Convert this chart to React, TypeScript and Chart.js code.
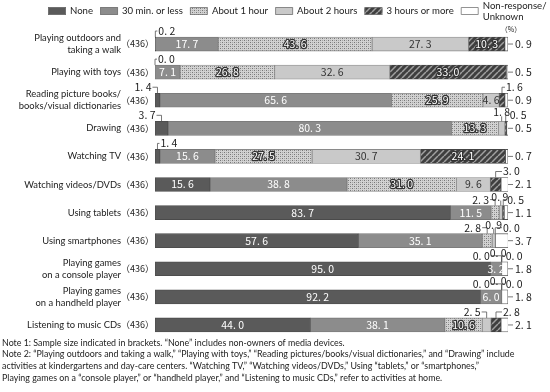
import React, { useEffect, useRef } from "react";
import { Chart, registerables } from "chart.js";
Chart.register(...registerables);

const categories: string[][] = [
  ["Playing outdoors and", "taking a walk"],
  ["Playing with toys"],
  ["Reading picture books/", "books/visual dictionaries"],
  ["Drawing"],
  ["Watching TV"],
  ["Watching videos/DVDs"],
  ["Using tablets"],
  ["Using smartphones"],
  ["Playing games", "on a console player"],
  ["Playing games", "on a handheld player"],
  ["Listening to music CDs"],
];
const sampleSizes = [436, 436, 436, 436, 436, 436, 436, 436, 436, 436, 436];
const seriesNames = ["None", "30 min. or less", "About 1 hour", "About 2 hours", "3 hours or more", "Non-response/Unknown"];
const noneVals = [0.2, 0.0, 1.4, 3.7, 1.4, 15.6, 83.7, 57.6, 95.0, 92.2, 44.0];
const min30Vals = [17.7, 7.1, 65.6, 80.3, 15.6, 38.8, 11.5, 35.1, 3.2, 6.0, 38.1];
const hour1Vals = [43.6, 26.8, 25.9, 13.3, 27.5, 31.0, 2.3, 2.8, 0.0, 0.0, 10.6];
const hour2Vals = [27.3, 32.6, 4.6, 1.8, 30.7, 9.6, 0.9, 0.9, 0.0, 0.0, 2.5];
const hour3Vals = [10.3, 33.0, 1.6, 0.5, 24.1, 3.0, 0.5, 0.0, 0.0, 0.0, 2.8];
const noRespVals = [0.9, 0.5, 0.9, 0.5, 0.7, 2.1, 1.1, 3.7, 1.8, 1.8, 2.1];
const notes = [
  "Note 1: Sample size indicated in brackets. \u201cNone\u201d includes non-owners of media devices.",
  "Note 2: \u201cPlaying outdoors and taking a walk,\u201d \u201cPlaying with toys,\u201d \u201cReading pictures/books/visual dictionaries,\u201d and \u201cDrawing\u201d include",
  "activities at kindergartens and day-care centers. \u201cWatching TV,\u201d \u201cWatching videos/DVDs,\u201d Using \u201ctablets,\u201d or \u201csmartphones,\u201d",
  "Playing games on a \u201cconsole player,\u201d or \u201chandheld player,\u201d and \u201cListening to music CDs,\u201d refer to activities at home.",
];

const seriesData = [noneVals, min30Vals, hour1Vals, hour2Vals, hour3Vals, noRespVals];

const LATIN = "Lato, 'Liberation Sans', sans-serif";
const NUMF = "'Noto Sans CJK JP', 'DejaVu Sans', sans-serif";

function dotPattern(ctx: CanvasRenderingContext2D) {
  const c = document.createElement("canvas");
  c.width = 4; c.height = 4;
  const g = c.getContext("2d")!;
  g.fillStyle = "#d2d2d2"; g.fillRect(0, 0, 4, 4);
  g.fillStyle = "#777777";
  g.fillRect(0, 0, 1, 1); g.fillRect(2, 2, 1, 1);
  g.fillStyle = "#a6a6a6";
  g.fillRect(2, 0, 1, 1); g.fillRect(0, 2, 1, 1);
  return ctx.createPattern(c, "repeat")!;
}
function hatchPattern(ctx: CanvasRenderingContext2D) {
  const s = 6;
  const c = document.createElement("canvas");
  c.width = s; c.height = s;
  const g = c.getContext("2d")!;
  g.fillStyle = "#3f3f3f"; g.fillRect(0, 0, s, s);
  g.strokeStyle = "#a0a0a0"; g.lineWidth = 1.5;
  for (const o of [-s, 0, s]) {
    g.beginPath(); g.moveTo(o, s); g.lineTo(o + s, 0); g.stroke();
  }
  return ctx.createPattern(c, "repeat")!;
}

const fmt = (v: number) => v.toFixed(1).replace(".", ". ");

export default function App() {
  const ref = useRef<HTMLCanvasElement>(null);
  useEffect(() => {
    const canvas = ref.current!;
    const ctx = canvas.getContext("2d")!;
    const fills: any[] = ["#5a5a5a", "#8c8c8c", dotPattern(ctx), "#c9c9c9", hatchPattern(ctx), "#ffffff"];
    const borders = ["#4a4a4a", "#777777", "#8a8a8a", "#8a8a8a", "#444444", "#555555"];

    const plugin = {
      id: "custom",
      afterDatasetsDraw(chart: any) {
        const c: CanvasRenderingContext2D = chart.ctx;
        const area = chart.chartArea;
        c.save();
        c.textBaseline = "middle";
        c.lineWidth = 0.8;
        c.strokeStyle = "#555";
        for (let i = 0; i < categories.length; i++) {
          const els = seriesData.map((_, d) => chart.getDatasetMeta(d).data[i]);
          const y = els[0].y;
          const h = els[0].height;
          const top = y - h / 2;
          const outs: any[] = [];
          c.font = `10.5px ${NUMF}`;
          for (let d = 0; d < 5; d++) {
            const v = seriesData[d][i];
            const el = els[d];
            const x0 = Math.min(el.base, el.x), x1 = Math.max(el.base, el.x);
            const cx = (x0 + x1) / 2;
            const inside = v >= 4 || (d === 1 && v >= 3);
            const t = fmt(v);
            if (inside) {
              c.textAlign = "center";
              if (d === 2 || d === 4) {
                c.lineWidth = 2.5; c.strokeStyle = "#333"; c.lineJoin = "round";
                c.strokeText(t, cx, y);
                c.fillStyle = "#fff"; c.fillText(t, cx, y);
                c.lineWidth = 0.8; c.strokeStyle = "#555";
              } else if (d === 3) {
                c.fillStyle = "#333"; c.fillText(t, cx, y);
              } else {
                c.fillStyle = "#fff"; c.fillText(t, cx, y);
              }
            } else {
              outs.push({ t, anchor: cx, w: c.measureText(t).width, raised: false, left: 0 });
            }
          }
          const n = outs.length;
          if (n > 0) {
            const last = outs[n - 1];
            last.left = last.anchor > area.right - 40 ? Math.max(last.anchor + 4, area.right - 5) : last.anchor + 3;
            let next = last;
            if (n >= 3) {
              for (let k = n - 2; k >= 1; k--) {
                const m = outs[k];
                const right = Math.min(m.anchor + m.w / 2, next.left + 1);
                m.left = right - m.w;
                m.raised = true;
                next = m;
              }
            }
            if (n >= 2) {
              const f = outs[0];
              const right = Math.min(f.anchor - 6, next.left - (n >= 3 ? 0 : 3));
              f.left = right - f.w;
            }
            for (const o of outs) {
              const yl = top - (o.raised ? 9 : 6);
              const right = o.left + o.w;
              c.beginPath();
              c.moveTo(o.anchor, top);
              if (o.left >= o.anchor) {
                c.lineTo(o.anchor, yl); c.lineTo(o.left - 1, yl);
              } else if (right <= o.anchor) {
                c.lineTo(o.anchor, yl); c.lineTo(right + 1, yl);
              } else {
                c.lineTo(o.anchor, yl + 4);
              }
              c.stroke();
              c.fillStyle = "#222"; c.textAlign = "left";
              c.fillText(o.t, o.left, yl);
            }
          }
          // non-response
          c.beginPath();
          c.moveTo(area.right, y); c.lineTo(area.right + 5, y);
          c.stroke();
          c.fillStyle = "#222"; c.textAlign = "left";
          c.fillText(fmt(noRespVals[i]), area.right + 7, y);

          // category labels
          const nTxt = `\uff08${sampleSizes[i]}\uff09`;
          c.font = `9px ${NUMF}`;
          c.textAlign = "right";
          const nW = c.measureText(nTxt).width;
          c.fillStyle = "#222";
          c.fillText(nTxt, area.left - 1, y);
          c.font = `9.4px ${LATIN}`;
          const lines = categories[i];
          const lx = area.left - 1 - nW;
          if (lines.length === 1) c.fillText(lines[0], lx, y);
          else { c.fillText(lines[0], lx, y - 6); c.fillText(lines[1], lx, y + 6); }
        }

        // legend (flow layout)
        const ly = 11;
        c.font = `9.6px ${LATIN}`;
        c.textAlign = "left";
        let x = 48;
        for (let d = 0; d < 6; d++) {
          c.fillStyle = fills[d];
          c.fillRect(x, ly - 4, 18, 8);
          c.lineWidth = 0.8; c.strokeStyle = "#777";
          c.strokeRect(x + 0.5, ly - 3.5, 17, 7);
          c.fillStyle = "#222";
          if (d === 5) {
            c.fillText("Non-response/", x + 22, 6);
            c.fillText("Unknown", x + 22, 17);
          } else {
            c.fillText(seriesNames[d], x + 22, ly);
            x += 22 + c.measureText(seriesNames[d]).width + 7;
          }
        }
        c.font = `7px ${NUMF}`;
        c.textAlign = "center";
        c.fillText("\uff08%\uff09", area.right + 3, 29);

        // notes
        c.textAlign = "left";
        c.font = `9px ${LATIN}`;
        const w2 = c.measureText(notes[1]).width;
        const fs = 9 * 513 / w2;
        c.font = `${fs.toFixed(2)}px ${LATIN}`;
        notes.forEach((t, k) => c.fillText(t, 2, 343 + k * 11.6));
        c.restore();
      },
    };

    const chart = new Chart(canvas, {
      type: "bar",
      data: {
        labels: categories.map((l) => l.join(" ")),
        datasets: seriesNames.map((name, d) => ({
          label: name,
          data: seriesData[d],
          backgroundColor: fills[d],
          borderColor: borders[d],
          borderWidth: 0.8,
          borderSkipped: false,
          barThickness: 14,
        })),
      },
      options: {
        indexAxis: "y",
        responsive: false,
        animation: false,
        devicePixelRatio: 1,
        layout: { padding: { left: 155, right: 42, top: 30, bottom: 53 } },
        scales: {
          x: { stacked: true, min: 0, max: 100, display: false },
          y: { stacked: true, display: false },
        },
        plugins: { legend: { display: false }, tooltip: { enabled: false } },
      },
      plugins: [plugin],
    } as any);
    return () => chart.destroy();
  }, []);
  return (
    <div style={{ position: "absolute", left: 0, top: 0, width: 550, height: 392, background: "#fff" }}>
      <canvas ref={ref} width={550} height={392} style={{ display: "block" }} />
    </div>
  );
}
